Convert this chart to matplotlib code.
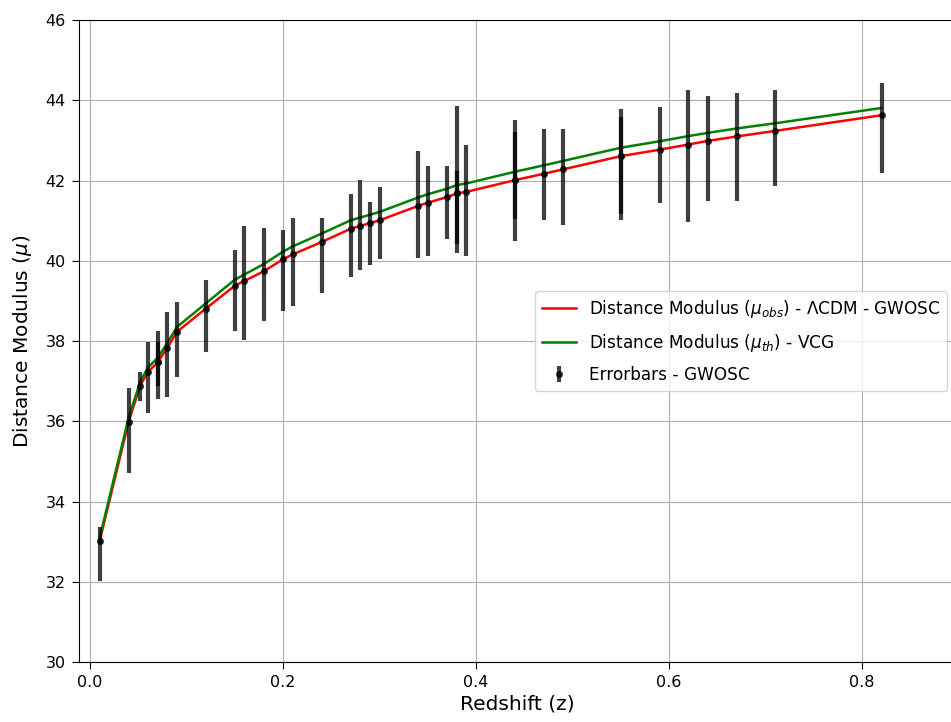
import numpy as np
import matplotlib
matplotlib.use("Agg")
import matplotlib.pyplot as plt

# GW events: redshift, observed distance modulus and asymmetric errors
z_ev = [0.01, 0.04, 0.052, 0.06, 0.07, 0.07, 0.08, 0.09, 0.12, 0.15, 0.16,
        0.18, 0.20, 0.21, 0.24, 0.27, 0.28, 0.29, 0.30, 0.34, 0.35, 0.37,
        0.38, 0.38, 0.39, 0.44, 0.44, 0.47, 0.49, 0.55, 0.55, 0.59, 0.62,
        0.64, 0.67, 0.71, 0.82]
mu_ev = [33.02, 35.99, 36.89, 37.23, 37.47, 37.47, 37.83, 38.23, 38.81, 39.38, 39.50,
         39.74, 40.04, 40.16, 40.47, 40.80, 40.87, 40.94, 41.01, 41.37, 41.45, 41.59,
         41.68, 41.68, 41.72, 42.01, 42.01, 42.17, 42.28, 42.61, 42.61, 42.77, 42.90,
         42.99, 43.10, 43.24, 43.63]
err_hi = [0.35, 0.83, 0.34, 0.75, 0.78, 0.50, 0.90, 0.75, 0.71, 0.89, 1.37,
          1.07, 0.73, 0.90, 0.60, 0.86, 1.14, 0.53, 0.82, 1.37, 0.91, 0.77,
          2.17, 0.56, 1.18, 1.49, 1.20, 1.12, 1.01, 1.18, 0.98, 1.06, 1.37,
          1.11, 1.08, 1.03, 0.80]
err_lo = [0.99, 1.27, 0.39, 1.03, 0.92, 0.60, 1.22, 1.13, 1.08, 1.13, 1.48,
          1.23, 1.28, 1.29, 1.28, 1.20, 1.10, 1.05, 0.97, 1.29, 1.33, 1.05,
          1.48, 1.25, 1.60, 1.51, 0.96, 1.16, 1.39, 1.60, 1.43, 1.34, 1.93,
          1.50, 1.61, 1.38, 1.43]

# model curves evaluated at the event redshifts
z_curve = [0.01, 0.04, 0.052, 0.06, 0.07, 0.08, 0.09, 0.12, 0.15, 0.16, 0.18,
           0.20, 0.21, 0.24, 0.27, 0.28, 0.29, 0.30, 0.34, 0.35, 0.37, 0.38,
           0.39, 0.44, 0.47, 0.49, 0.55, 0.59, 0.62, 0.64, 0.67, 0.71, 0.82]
mu_lcdm = [33.02, 35.99, 36.89, 37.23, 37.47, 37.83, 38.23, 38.81, 39.38, 39.50, 39.74,
           40.04, 40.16, 40.47, 40.80, 40.87, 40.94, 41.01, 41.37, 41.45, 41.59, 41.68,
           41.72, 42.01, 42.17, 42.28, 42.61, 42.77, 42.90, 42.99, 43.10, 43.24, 43.63]
mu_vcg = [33.10, 36.09, 36.99, 37.34, 37.58, 37.95, 38.35, 38.94, 39.53, 39.66, 39.92,
          40.23, 40.36, 40.68, 41.01, 41.08, 41.15, 41.22, 41.58, 41.66, 41.80, 41.89,
          41.93, 42.22, 42.38, 42.49, 42.82, 42.98, 43.11, 43.19, 43.30, 43.43, 43.81]

fig = plt.figure(figsize=(9.51, 7.22), dpi=100)
ax = fig.add_axes([0.0831, 0.0831, 0.922, 0.889])

ax.plot(z_curve, mu_lcdm, color='r', lw=1.8,
        label=r'Distance Modulus ($\mu_{obs}$) - $\Lambda$CDM - GWOSC')
ax.plot(z_curve, mu_vcg, color='g', lw=1.8,
        label=r'Distance Modulus ($\mu_{th}$) - VCG')
ax.errorbar(z_ev, mu_ev, yerr=[err_lo, err_hi], fmt='o', color='k', ms=4,
            elinewidth=3, ecolor='k', alpha=0.75, label='Errorbars - GWOSC')

ax.set_xlim(-0.0114, 0.897)
ax.set_ylim(30, 46)
ax.set_xticks(np.arange(0, 0.81, 0.2))
ax.set_yticks(np.arange(30, 47, 2))
ax.tick_params(labelsize=11.5, length=5, pad=4.5)
ax.set_xlabel('Redshift (z)', fontsize=14.5, labelpad=3)
ax.set_ylabel(r'Distance Modulus ($\mu$)', fontsize=14.5, labelpad=8)
ax.grid(True)
ax.legend(loc='center right', fontsize=12.2, labelspacing=0.7)

fig.savefig('out.png', dpi=100)
